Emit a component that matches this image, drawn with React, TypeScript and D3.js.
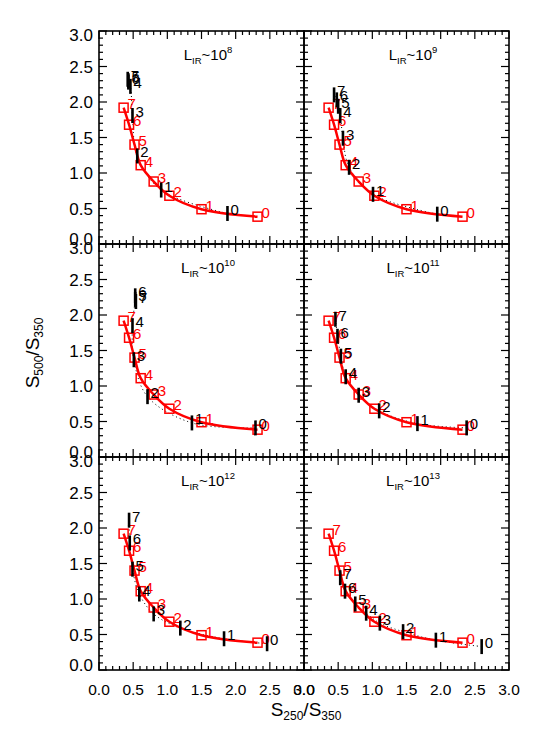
import React from 'react';
import * as d3 from 'd3';

// ---- data ----
const POINT_LABELS = ['0', '1', '2', '3', '4', '5', '6', '7'];
const LIR_EXPONENTS = ['8', '9', '10', '11', '12', '13'];

// red model track (same in every panel)
const RED_X = [2.32, 1.5, 1.03, 0.8, 0.61, 0.52, 0.44, 0.36];
const RED_Y = [0.385, 0.49, 0.68, 0.88, 1.11, 1.4, 1.68, 1.92];

// black tracks, one per luminosity panel
const BLACK_X_8 = [1.88, 0.91, 0.56, 0.49, 0.46, 0.43, 0.43, 0.42];
const BLACK_Y_8 = [0.43, 0.76, 1.24, 1.81, 2.22, 2.3, 2.28, 2.32];
const BLACK_X_9 = [1.95, 1.01, 0.66, 0.57, 0.53, 0.5, 0.48, 0.44];
const BLACK_Y_9 = [0.42, 0.7, 1.08, 1.49, 1.81, 1.94, 2.03, 2.1];
const BLACK_X_10 = [2.29, 1.36, 0.71, 0.51, 0.49, 0.53, 0.53, 0.54];
const BLACK_Y_10 = [0.41, 0.48, 0.85, 1.37, 1.85, 2.22, 2.27, 2.19];
const BLACK_X_11 = [2.38, 1.66, 1.1, 0.8, 0.61, 0.54, 0.49, 0.46];
const BLACK_Y_11 = [0.41, 0.47, 0.65, 0.87, 1.13, 1.42, 1.7, 1.94];
const BLACK_X_12 = [2.46, 1.83, 1.19, 0.8, 0.59, 0.49, 0.45, 0.44];
const BLACK_Y_12 = [0.37, 0.44, 0.59, 0.79, 1.07, 1.42, 1.79, 2.11];
const BLACK_X_13 = [2.6, 1.93, 1.45, 1.11, 0.91, 0.75, 0.6, 0.53];
const BLACK_Y_13 = [0.33, 0.42, 0.54, 0.66, 0.8, 0.93, 1.11, 1.3];

const BLACK_X = [BLACK_X_8, BLACK_X_9, BLACK_X_10, BLACK_X_11, BLACK_X_12, BLACK_X_13];
const BLACK_Y = [BLACK_Y_8, BLACK_Y_9, BLACK_Y_10, BLACK_Y_11, BLACK_Y_12, BLACK_Y_13];

const AXIS_DOMAIN = [0, 3];
const MAJOR_TICKS = [0, 0.5, 1, 1.5, 2, 2.5, 3];

// ---- layout ----
const W = 540;
const H = 735;
const COL_X = [99, 304];
const PANEL_W = 205;
const ROW_Y = [31, 244, 457];
const PANEL_H = 213;
const FONT = '"Liberation Sans", Arial, Helvetica, sans-serif';
const RED = '#ff0000';

const fmt = d3.format('.1f');
const minorTicks = d3.range(0, 3.0001, 0.1);

function Panel({ idx }: { idx: number }) {
  const col = idx % 2;
  const row = Math.floor(idx / 2);
  const x0 = COL_X[col];
  const y0 = ROW_Y[row];
  const x = d3.scaleLinear().domain(AXIS_DOMAIN).range([x0, x0 + PANEL_W]);
  const y = d3.scaleLinear().domain(AXIS_DOMAIN).range([y0 + PANEL_H, y0]);

  const redPts: [number, number][] = RED_X.map((v, i) => [x(v), y(RED_Y[i])]);
  const blkPts: [number, number][] = BLACK_X[idx].map((v, i) => [x(v), y(BLACK_Y[idx][i])]);
  const line = d3.line().curve(d3.curveCatmullRom.alpha(0.5));

  const ticks: JSX.Element[] = [];
  minorTicks.forEach((t, i) => {
    const major = Math.abs(t * 2 - Math.round(t * 2)) < 1e-6;
    const len = major ? 8 : 4;
    const xp = x(t);
    const yp = y(t);
    const bottom = y0 + PANEL_H;
    const right = x0 + PANEL_W;
    ticks.push(<line key={'b' + i} x1={xp} x2={xp} y1={bottom} y2={bottom - len} />);
    ticks.push(<line key={'t' + i} x1={xp} x2={xp} y1={y0} y2={y0 + len} />);
    ticks.push(<line key={'l' + i} x1={x0} x2={x0 + len} y1={yp} y2={yp} />);
    ticks.push(<line key={'r' + i} x1={right} x2={right - len} y1={yp} y2={yp} />);
  });

  return (
    <g>
      <g stroke="#000" strokeWidth={1.2}>{ticks}</g>
      <rect x={x0} y={y0} width={PANEL_W} height={PANEL_H} fill="none" stroke="#000" strokeWidth={1.6} />
      {col === 0 &&
        MAJOR_TICKS.map((t) => (
          <text
            key={'yl' + t}
            x={x0 - 6}
            y={y(t) + 6 + (t === 0 ? -5 : t === 3 ? 4 : 0)}
            textAnchor="end"
            fontSize={17}
            fontFamily={FONT}
          >
            {fmt(t)}
          </text>
        ))}
      {row === 2 &&
        MAJOR_TICKS.map((t) => (
          <text key={'xl' + t} x={x(t)} y={y0 + PANEL_H + 25} textAnchor="middle" fontSize={15.5} fontFamily={FONT}>
            {fmt(t)}
          </text>
        ))}
      <text x={x0 + 109} y={y0 + 29} textAnchor="middle" fontSize={15} fontFamily={FONT}>
        L
        <tspan fontSize={9.5} dy={4}>IR</tspan>
        <tspan dy={-4}>~10</tspan>
        <tspan fontSize={9.5} dy={-7}>{LIR_EXPONENTS[idx]}</tspan>
      </text>
      <path d={line(blkPts) || ''} fill="none" stroke="#000" strokeWidth={1} strokeDasharray="1 3" />
      <path d={line(redPts) || ''} fill="none" stroke={RED} strokeWidth={2.5} />
      {redPts.map(([px, py], i) => (
        <g key={'r' + i}>
          <rect x={px - 4.5} y={py - 4.5} width={9} height={9} fill="none" stroke={RED} strokeWidth={1.5} />
          <text x={px + 4} y={py + 1.5} fontSize={15} fill={RED} fontFamily={FONT}>
            {POINT_LABELS[i]}
          </text>
        </g>
      ))}
      {blkPts.map(([px, py], i) => (
        <g key={'k' + i}>
          <line x1={px} x2={px} y1={py - 7.5} y2={py + 7.5} stroke="#000" strokeWidth={2.6} />
          <text x={px + 3} y={py + 1.5} fontSize={15} fill="#000" fontFamily={FONT}>
            {POINT_LABELS[i]}
          </text>
        </g>
      ))}
    </g>
  );
}

export default function App() {
  return (
    <svg
      width={W}
      height={H}
      viewBox={`0 0 ${W} ${H}`}
      style={{ position: 'absolute', left: 0, top: 0, background: '#fff' }}
    >
      <rect x={0} y={0} width={W} height={H} fill="#fff" />
      {LIR_EXPONENTS.map((_, i) => (
        <Panel key={i} idx={i} />
      ))}
      <text x={306} y={716} textAnchor="middle" fontSize={19} fontFamily={FONT}>
        S<tspan fontSize={12} dy={4}>250</tspan>
        <tspan dy={-4}>/S</tspan>
        <tspan fontSize={12} dy={4}>350</tspan>
      </text>
      <text
        transform="translate(39,353) rotate(-90)"
        textAnchor="middle"
        fontSize={19}
        fontFamily={FONT}
      >
        S<tspan fontSize={12} dy={4}>500</tspan>
        <tspan dy={-4}>/S</tspan>
        <tspan fontSize={12} dy={4}>350</tspan>
      </text>
    </svg>
  );
}
